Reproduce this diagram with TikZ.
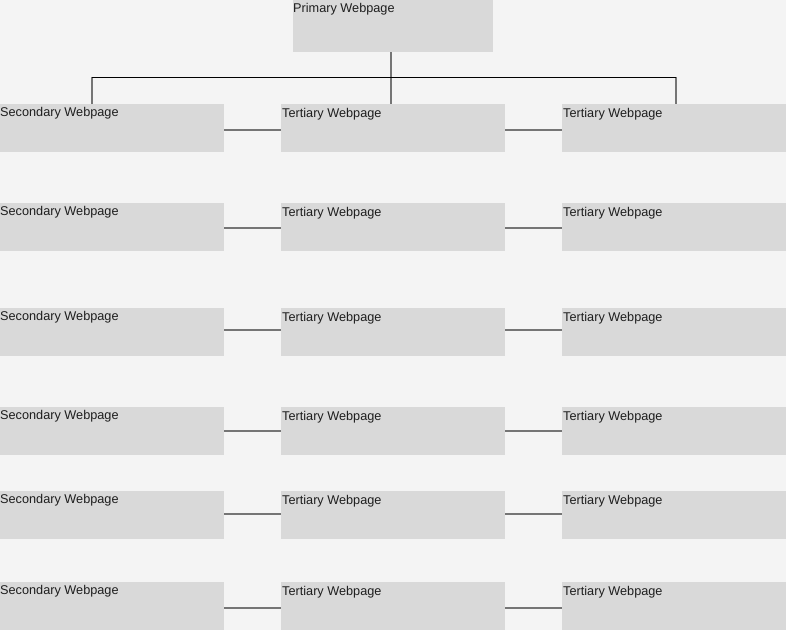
\documentclass[tikz,border=0pt]{standalone}
\usepackage{fontspec}
\setmainfont{Liberation Sans}
\usetikzlibrary{calc}
\definecolor{bgc}{HTML}{F4F4F4}
\definecolor{boxc}{HTML}{D9D9D9}
\definecolor{linec}{HTML}{757575}
\definecolor{txtc}{HTML}{1E1E1E}
\tikzset{
  pagebox/.style={rectangle, fill=boxc, draw=none, anchor=north west, inner sep=0pt,
    minimum width=224pt, minimum height=48pt},
  boxtext/.style={anchor=base west, inner sep=0pt, text=txtc, font=\fontsize{12.7pt}{14pt}\selectfont},
  conn/.style={draw=linec, line width=2pt},
  bar/.style={draw=black, line width=1pt}
}
\begin{document}
\begin{tikzpicture}[x=1pt,y=-1pt]
\fill[bgc] (0,0) rectangle (786,630);
\useasboundingbox (0,0) rectangle (786,630);
% primary
\node[pagebox, minimum width=200pt, minimum height=52pt] (p) at (293,0) {};
\node[boxtext] (pt) at (293,12) {Primary Webpage};
% rows
\foreach \r/\y/\d in {1/104/1.5,2/203/1,3/308/-2,4/407/0,5/491/-1,6/582/2}{
  \node[pagebox] (s\r) at (0,\y) {};
  \node[pagebox] (a\r) at (281,\y) {};
  \node[pagebox] (b\r) at (562,\y) {};
  \node[boxtext] (s\r t) at (0,\y+12) {Secondary Webpage};
  \node[boxtext] (a\r t) at (282,\y+13) {Tertiary Webpage};
  \node[boxtext] (b\r t) at (563,\y+13) {Tertiary Webpage};
  \draw[conn] ($(s\r.east)+(0,\d)$) -- ($(a\r.west)+(0,\d)$);
  \draw[conn] ($(a\r.east)+(0,\d)$) -- ($(b\r.west)+(0,\d)$);
}
% tree
\coordinate (lj) at (92,77);
\coordinate (rj) at (676,77);
\coordinate (ls) at (92,104);
\coordinate (rs) at (676,104);
\draw[conn] (391,52) -- (391,104);
\draw[conn] (lj) -- (ls);
\draw[conn] (rj) -- (rs);
\draw[bar] (lj) -- (rj);
\end{tikzpicture}
\end{document}
